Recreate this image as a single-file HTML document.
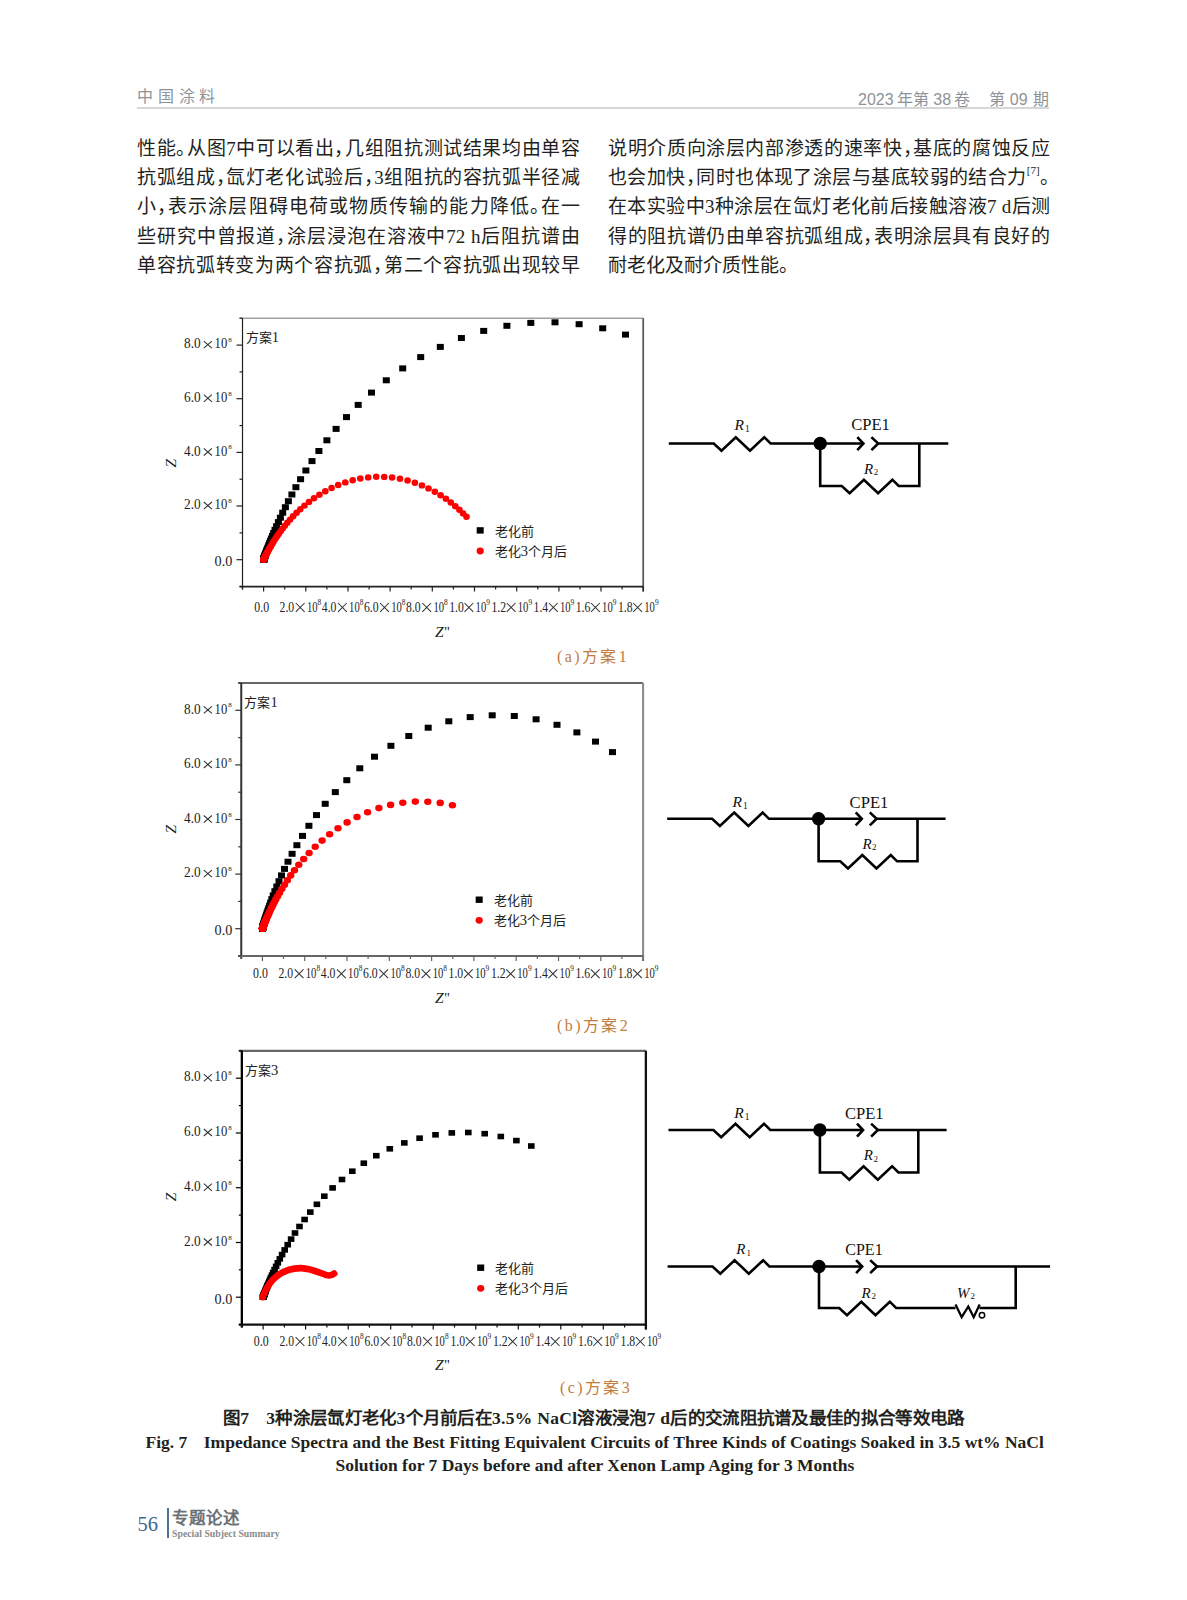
<!DOCTYPE html>
<html lang="zh-CN"><head><meta charset="utf-8"><style>
html,body{margin:0;padding:0;background:#fff;}
body{width:1187px;height:1600px;position:relative;overflow:hidden;font-family:"Liberation Serif", serif;}
.ln{position:absolute;font-size:19px;font-feature-settings:'halt';line-height:22px;height:22px;color:#231f20;text-align:justify;text-align-last:justify;white-space:nowrap;}
.ln.last{text-align-last:left;}
.ln sup{font-size:11px;vertical-align:10.5px;line-height:0;}
.hdr{position:absolute;white-space:nowrap;color:#8d9398;font-family:"Liberation Sans", sans-serif;font-size:16px;line-height:18px;}
.cap{position:absolute;color:#c27b3e;font-size:16px;line-height:18px;letter-spacing:2.4px;white-space:nowrap;}
.fc{position:absolute;color:#231f20;font-weight:bold;line-height:20px;white-space:nowrap;}
</style></head><body>
<div class="hdr" style="left:137px;top:88px;letter-spacing:4.8px">中国涂料</div>
<div class="hdr" style="left:858px;top:90.5px">2023<span style="margin-left:3.9px"></span>年第<span style="margin-left:3.8px"></span>38<span style="margin-left:2.8px"></span>卷<span style="margin-left:18.9px"></span>第<span style="margin-left:5px"></span>09<span style="margin-left:5.7px"></span>期</div>
<div style="position:absolute;left:137px;top:107px;width:912px;height:1.5px;background:#d4d6d8"></div>
<div class="ln" style="left:137px;top:138.0px;width:443px">性能。从图7中可以看出，几组阻抗测试结果均由单容</div><div class="ln" style="left:137px;top:167.2px;width:443px">抗弧组成，氙灯老化试验后，3组阻抗的容抗弧半径减</div><div class="ln" style="left:137px;top:196.4px;width:443px">小，表示涂层阻碍电荷或物质传输的能力降低。在一</div><div class="ln" style="left:137px;top:225.6px;width:443px">些研究中曾报道，涂层浸泡在溶液中72 h后阻抗谱由</div><div class="ln" style="left:137px;top:254.8px;width:443px">单容抗弧转变为两个容抗弧，第二个容抗弧出现较早</div><div class="ln" style="left:608px;top:138.0px;width:442px">说明介质向涂层内部渗透的速率快，基底的腐蚀反应</div><div class="ln" style="left:608px;top:167.2px;width:442px">也会加快，同时也体现了涂层与基底较弱的结合力<sup>[7]</sup>。</div><div class="ln" style="left:608px;top:196.4px;width:442px">在本实验中3种涂层在氙灯老化前后接触溶液7 d后测</div><div class="ln" style="left:608px;top:225.6px;width:442px">得的阻抗谱仍由单容抗弧组成，表明涂层具有良好的</div><div class="ln last" style="left:608px;top:254.8px;width:442px">耐老化及耐介质性能。</div>
<svg width="1187" height="1600" viewBox="0 0 1187 1600" style="position:absolute;left:0;top:0" font-family='"Liberation Serif", serif'><g fill="#000"><rect x="622.0" y="331.6" width="7" height="6"/><rect x="599.2" y="325.3" width="7" height="6"/><rect x="575.6" y="321.2" width="7" height="6"/><rect x="551.5" y="319.3" width="7" height="6"/><rect x="527.3" y="319.9" width="7" height="6"/><rect x="503.4" y="322.8" width="7" height="6"/><rect x="480.2" y="327.9" width="7" height="6"/><rect x="457.9" y="335.0" width="7" height="6"/><rect x="436.8" y="343.9" width="7" height="6"/><rect x="417.2" y="354.1" width="7" height="6"/><rect x="399.2" y="365.4" width="7" height="6"/><rect x="382.8" y="377.3" width="7" height="6"/><rect x="368.0" y="389.6" width="7" height="6"/><rect x="354.7" y="401.9" width="7" height="6"/><rect x="343.0" y="414.1" width="7" height="6"/><rect x="332.6" y="425.9" width="7" height="6"/><rect x="323.4" y="437.3" width="7" height="6"/><rect x="315.4" y="448.0" width="7" height="6"/><rect x="308.5" y="458.1" width="7" height="6"/><rect x="302.4" y="467.5" width="7" height="6"/><rect x="297.1" y="476.2" width="7" height="6"/><rect x="292.4" y="484.2" width="7" height="6"/><rect x="288.4" y="491.5" width="7" height="6"/><rect x="284.9" y="498.2" width="7" height="6"/><rect x="281.9" y="504.2" width="7" height="6"/><rect x="279.2" y="509.7" width="7" height="6"/><rect x="276.9" y="514.7" width="7" height="6"/><rect x="274.9" y="519.1" width="7" height="6"/><rect x="273.1" y="523.2" width="7" height="6"/><rect x="271.5" y="526.8" width="7" height="6"/><rect x="270.2" y="530.0" width="7" height="6"/><rect x="269.0" y="532.9" width="7" height="6"/><rect x="267.9" y="535.5" width="7" height="6"/><rect x="267.0" y="537.8" width="7" height="6"/><rect x="266.2" y="539.9" width="7" height="6"/><rect x="265.5" y="541.7" width="7" height="6"/><rect x="264.9" y="543.4" width="7" height="6"/><rect x="264.3" y="544.9" width="7" height="6"/><rect x="263.8" y="546.2" width="7" height="6"/><rect x="263.4" y="547.3" width="7" height="6"/><rect x="263.0" y="548.4" width="7" height="6"/><rect x="262.7" y="549.3" width="7" height="6"/><rect x="262.4" y="550.1" width="7" height="6"/><rect x="262.1" y="550.9" width="7" height="6"/><rect x="261.9" y="551.5" width="7" height="6"/><rect x="261.7" y="552.1" width="7" height="6"/><rect x="261.5" y="552.6" width="7" height="6"/><rect x="261.4" y="553.1" width="7" height="6"/><rect x="261.2" y="553.5" width="7" height="6"/><rect x="261.1" y="553.8" width="7" height="6"/><rect x="261.0" y="554.2" width="7" height="6"/><rect x="260.9" y="554.4" width="7" height="6"/><rect x="260.8" y="554.7" width="7" height="6"/><rect x="260.7" y="554.9" width="7" height="6"/><rect x="260.6" y="555.1" width="7" height="6"/><rect x="260.6" y="555.3" width="7" height="6"/><rect x="260.5" y="555.4" width="7" height="6"/><rect x="260.5" y="555.6" width="7" height="6"/><rect x="260.4" y="555.7" width="7" height="6"/><rect x="260.4" y="555.8" width="7" height="6"/><rect x="260.4" y="555.9" width="7" height="6"/><rect x="260.3" y="556.0" width="7" height="6"/><rect x="260.3" y="556.1" width="7" height="6"/><rect x="260.3" y="556.2" width="7" height="6"/><rect x="260.3" y="556.2" width="7" height="6"/><rect x="260.2" y="556.3" width="7" height="6"/><rect x="260.2" y="556.3" width="7" height="6"/><rect x="260.2" y="556.4" width="7" height="6"/><rect x="260.2" y="556.4" width="7" height="6"/><rect x="260.2" y="556.4" width="7" height="6"/><rect x="260.2" y="556.5" width="7" height="6"/><ellipse cx="466.5" cy="516.8" rx="3.3" ry="3.2" fill="#f00"/><ellipse cx="463.1" cy="513.4" rx="3.3" ry="3.2" fill="#f00"/><ellipse cx="459.4" cy="509.8" rx="3.3" ry="3.2" fill="#f00"/><ellipse cx="455.3" cy="506.2" rx="3.3" ry="3.2" fill="#f00"/><ellipse cx="450.8" cy="502.5" rx="3.3" ry="3.2" fill="#f00"/><ellipse cx="445.9" cy="498.8" rx="3.3" ry="3.2" fill="#f00"/><ellipse cx="440.6" cy="495.2" rx="3.3" ry="3.2" fill="#f00"/><ellipse cx="434.8" cy="491.7" rx="3.3" ry="3.2" fill="#f00"/><ellipse cx="428.5" cy="488.4" rx="3.3" ry="3.2" fill="#f00"/><ellipse cx="421.9" cy="485.4" rx="3.3" ry="3.2" fill="#f00"/><ellipse cx="414.9" cy="482.7" rx="3.3" ry="3.2" fill="#f00"/><ellipse cx="407.6" cy="480.5" rx="3.3" ry="3.2" fill="#f00"/><ellipse cx="400.0" cy="478.7" rx="3.3" ry="3.2" fill="#f00"/><ellipse cx="392.1" cy="477.5" rx="3.3" ry="3.2" fill="#f00"/><ellipse cx="384.2" cy="476.9" rx="3.3" ry="3.2" fill="#f00"/><ellipse cx="376.2" cy="476.8" rx="3.3" ry="3.2" fill="#f00"/><ellipse cx="368.2" cy="477.4" rx="3.3" ry="3.2" fill="#f00"/><ellipse cx="360.3" cy="478.5" rx="3.3" ry="3.2" fill="#f00"/><ellipse cx="352.7" cy="480.2" rx="3.3" ry="3.2" fill="#f00"/><ellipse cx="345.3" cy="482.4" rx="3.3" ry="3.2" fill="#f00"/><ellipse cx="338.2" cy="485.0" rx="3.3" ry="3.2" fill="#f00"/><ellipse cx="331.6" cy="488.0" rx="3.3" ry="3.2" fill="#f00"/><ellipse cx="325.3" cy="491.2" rx="3.3" ry="3.2" fill="#f00"/><ellipse cx="319.4" cy="494.7" rx="3.3" ry="3.2" fill="#f00"/><ellipse cx="314.0" cy="498.3" rx="3.3" ry="3.2" fill="#f00"/><ellipse cx="309.0" cy="501.9" rx="3.3" ry="3.2" fill="#f00"/><ellipse cx="304.5" cy="505.6" rx="3.3" ry="3.2" fill="#f00"/><ellipse cx="300.3" cy="509.3" rx="3.3" ry="3.2" fill="#f00"/><ellipse cx="296.6" cy="512.8" rx="3.3" ry="3.2" fill="#f00"/><ellipse cx="293.1" cy="516.3" rx="3.3" ry="3.2" fill="#f00"/><ellipse cx="290.1" cy="519.6" rx="3.3" ry="3.2" fill="#f00"/><ellipse cx="287.3" cy="522.8" rx="3.3" ry="3.2" fill="#f00"/><ellipse cx="284.8" cy="525.8" rx="3.3" ry="3.2" fill="#f00"/><ellipse cx="282.6" cy="528.6" rx="3.3" ry="3.2" fill="#f00"/><ellipse cx="280.6" cy="531.3" rx="3.3" ry="3.2" fill="#f00"/><ellipse cx="278.8" cy="533.7" rx="3.3" ry="3.2" fill="#f00"/><ellipse cx="277.2" cy="536.0" rx="3.3" ry="3.2" fill="#f00"/><ellipse cx="275.8" cy="538.1" rx="3.3" ry="3.2" fill="#f00"/><ellipse cx="274.5" cy="540.1" rx="3.3" ry="3.2" fill="#f00"/><ellipse cx="273.4" cy="541.8" rx="3.3" ry="3.2" fill="#f00"/><ellipse cx="272.4" cy="543.5" rx="3.3" ry="3.2" fill="#f00"/><ellipse cx="271.5" cy="545.0" rx="3.3" ry="3.2" fill="#f00"/><ellipse cx="270.7" cy="546.4" rx="3.3" ry="3.2" fill="#f00"/><ellipse cx="269.9" cy="547.6" rx="3.3" ry="3.2" fill="#f00"/><ellipse cx="269.3" cy="548.8" rx="3.3" ry="3.2" fill="#f00"/><ellipse cx="268.7" cy="549.8" rx="3.3" ry="3.2" fill="#f00"/><ellipse cx="268.2" cy="550.8" rx="3.3" ry="3.2" fill="#f00"/><ellipse cx="267.7" cy="551.6" rx="3.3" ry="3.2" fill="#f00"/><ellipse cx="267.3" cy="552.4" rx="3.3" ry="3.2" fill="#f00"/><ellipse cx="266.9" cy="553.1" rx="3.3" ry="3.2" fill="#f00"/><ellipse cx="266.6" cy="553.7" rx="3.3" ry="3.2" fill="#f00"/><ellipse cx="266.3" cy="554.3" rx="3.3" ry="3.2" fill="#f00"/><ellipse cx="266.0" cy="554.8" rx="3.3" ry="3.2" fill="#f00"/><ellipse cx="265.8" cy="555.3" rx="3.3" ry="3.2" fill="#f00"/><ellipse cx="265.5" cy="555.8" rx="3.3" ry="3.2" fill="#f00"/><ellipse cx="265.4" cy="556.1" rx="3.3" ry="3.2" fill="#f00"/><ellipse cx="265.2" cy="556.5" rx="3.3" ry="3.2" fill="#f00"/><ellipse cx="265.0" cy="556.8" rx="3.3" ry="3.2" fill="#f00"/><ellipse cx="264.9" cy="557.1" rx="3.3" ry="3.2" fill="#f00"/><ellipse cx="264.7" cy="557.3" rx="3.3" ry="3.2" fill="#f00"/><ellipse cx="264.6" cy="557.6" rx="3.3" ry="3.2" fill="#f00"/><ellipse cx="264.5" cy="557.8" rx="3.3" ry="3.2" fill="#f00"/><ellipse cx="264.4" cy="558.0" rx="3.3" ry="3.2" fill="#f00"/><ellipse cx="264.4" cy="558.2" rx="3.3" ry="3.2" fill="#f00"/><ellipse cx="264.3" cy="558.3" rx="3.3" ry="3.2" fill="#f00"/><ellipse cx="264.2" cy="558.4" rx="3.3" ry="3.2" fill="#f00"/><ellipse cx="264.1" cy="558.6" rx="3.3" ry="3.2" fill="#f00"/><ellipse cx="264.1" cy="558.7" rx="3.3" ry="3.2" fill="#f00"/><ellipse cx="264.0" cy="558.8" rx="3.3" ry="3.2" fill="#f00"/><ellipse cx="264.0" cy="558.9" rx="3.3" ry="3.2" fill="#f00"/><ellipse cx="264.0" cy="559.0" rx="3.3" ry="3.2" fill="#f00"/><ellipse cx="263.9" cy="559.0" rx="3.3" ry="3.2" fill="#f00"/><ellipse cx="263.9" cy="559.1" rx="3.3" ry="3.2" fill="#f00"/><ellipse cx="263.9" cy="559.2" rx="3.3" ry="3.2" fill="#f00"/><ellipse cx="263.8" cy="559.2" rx="3.3" ry="3.2" fill="#f00"/><ellipse cx="263.8" cy="559.3" rx="3.3" ry="3.2" fill="#f00"/><ellipse cx="263.8" cy="559.3" rx="3.3" ry="3.2" fill="#f00"/><ellipse cx="263.8" cy="559.3" rx="3.3" ry="3.2" fill="#f00"/><ellipse cx="263.8" cy="559.4" rx="3.3" ry="3.2" fill="#f00"/><ellipse cx="263.7" cy="559.4" rx="3.3" ry="3.2" fill="#f00"/><ellipse cx="263.7" cy="559.4" rx="3.3" ry="3.2" fill="#f00"/><ellipse cx="263.7" cy="559.5" rx="3.3" ry="3.2" fill="#f00"/><ellipse cx="263.7" cy="559.5" rx="3.3" ry="3.2" fill="#f00"/><ellipse cx="263.7" cy="559.5" rx="3.3" ry="3.2" fill="#f00"/><ellipse cx="263.7" cy="559.5" rx="3.3" ry="3.2" fill="#f00"/><ellipse cx="263.7" cy="559.5" rx="3.3" ry="3.2" fill="#f00"/><ellipse cx="263.7" cy="559.6" rx="3.3" ry="3.2" fill="#f00"/><ellipse cx="263.7" cy="559.6" rx="3.3" ry="3.2" fill="#f00"/><ellipse cx="263.7" cy="559.6" rx="3.3" ry="3.2" fill="#f00"/><ellipse cx="263.6" cy="559.6" rx="3.3" ry="3.2" fill="#f00"/><ellipse cx="263.6" cy="559.6" rx="3.3" ry="3.2" fill="#f00"/></g><line x1="239.51000000000002" y1="318.2300000000001" x2="643.22" y2="318.2300000000001" stroke="#a0a0a0" stroke-width="1.7"/><line x1="643.22" y1="318.2300000000001" x2="643.22" y2="591.5300000000001" stroke="#555" stroke-width="1.7"/><line x1="242.51000000000002" y1="318.2300000000001" x2="242.51000000000002" y2="589.5300000000001" stroke="#222" stroke-width="1.2"/><line x1="239.51000000000002" y1="586.5300000000001" x2="643.22" y2="586.5300000000001" stroke="#222" stroke-width="1.7"/><line x1="239.51000000000002" y1="586.5" x2="242.51000000000002" y2="586.5" stroke="#222" stroke-width="1.2"/><line x1="236.51000000000002" y1="559.7" x2="242.51000000000002" y2="559.7" stroke="#222" stroke-width="1.2"/><line x1="239.51000000000002" y1="532.9" x2="242.51000000000002" y2="532.9" stroke="#222" stroke-width="1.2"/><line x1="236.51000000000002" y1="506.0" x2="242.51000000000002" y2="506.0" stroke="#222" stroke-width="1.2"/><line x1="239.51000000000002" y1="479.2" x2="242.51000000000002" y2="479.2" stroke="#222" stroke-width="1.2"/><line x1="236.51000000000002" y1="452.4" x2="242.51000000000002" y2="452.4" stroke="#222" stroke-width="1.2"/><line x1="239.51000000000002" y1="425.6" x2="242.51000000000002" y2="425.6" stroke="#222" stroke-width="1.2"/><line x1="236.51000000000002" y1="398.7" x2="242.51000000000002" y2="398.7" stroke="#222" stroke-width="1.2"/><line x1="239.51000000000002" y1="371.9" x2="242.51000000000002" y2="371.9" stroke="#222" stroke-width="1.2"/><line x1="236.51000000000002" y1="345.1" x2="242.51000000000002" y2="345.1" stroke="#222" stroke-width="1.2"/><line x1="239.51000000000002" y1="318.2" x2="242.51000000000002" y2="318.2" stroke="#222" stroke-width="1.2"/><line x1="242.5" y1="586.5300000000001" x2="242.5" y2="589.5300000000001" stroke="#222" stroke-width="1.2"/><line x1="263.6" y1="586.5300000000001" x2="263.6" y2="591.5300000000001" stroke="#222" stroke-width="1.2"/><line x1="284.7" y1="586.5300000000001" x2="284.7" y2="589.5300000000001" stroke="#222" stroke-width="1.2"/><line x1="305.8" y1="586.5300000000001" x2="305.8" y2="591.5300000000001" stroke="#222" stroke-width="1.2"/><line x1="326.9" y1="586.5300000000001" x2="326.9" y2="589.5300000000001" stroke="#222" stroke-width="1.2"/><line x1="348.0" y1="586.5300000000001" x2="348.0" y2="591.5300000000001" stroke="#222" stroke-width="1.2"/><line x1="369.1" y1="586.5300000000001" x2="369.1" y2="589.5300000000001" stroke="#222" stroke-width="1.2"/><line x1="390.1" y1="586.5300000000001" x2="390.1" y2="591.5300000000001" stroke="#222" stroke-width="1.2"/><line x1="411.2" y1="586.5300000000001" x2="411.2" y2="589.5300000000001" stroke="#222" stroke-width="1.2"/><line x1="432.3" y1="586.5300000000001" x2="432.3" y2="591.5300000000001" stroke="#222" stroke-width="1.2"/><line x1="453.4" y1="586.5300000000001" x2="453.4" y2="589.5300000000001" stroke="#222" stroke-width="1.2"/><line x1="474.5" y1="586.5300000000001" x2="474.5" y2="591.5300000000001" stroke="#222" stroke-width="1.2"/><line x1="495.6" y1="586.5300000000001" x2="495.6" y2="589.5300000000001" stroke="#222" stroke-width="1.2"/><line x1="516.7" y1="586.5300000000001" x2="516.7" y2="591.5300000000001" stroke="#222" stroke-width="1.2"/><line x1="537.8" y1="586.5300000000001" x2="537.8" y2="589.5300000000001" stroke="#222" stroke-width="1.2"/><line x1="558.9" y1="586.5300000000001" x2="558.9" y2="591.5300000000001" stroke="#222" stroke-width="1.2"/><line x1="580.0" y1="586.5300000000001" x2="580.0" y2="589.5300000000001" stroke="#222" stroke-width="1.2"/><line x1="601.0" y1="586.5300000000001" x2="601.0" y2="591.5300000000001" stroke="#222" stroke-width="1.2"/><line x1="622.1" y1="586.5300000000001" x2="622.1" y2="589.5300000000001" stroke="#222" stroke-width="1.2"/><line x1="643.2" y1="586.5300000000001" x2="643.2" y2="591.5300000000001" stroke="#222" stroke-width="1.2"/><g fill="#222"><text x="214.6" y="566.1" font-size="14" textLength="17.8" lengthAdjust="spacingAndGlyphs">0.0</text><text x="184.1" y="509.2" font-size="13.6" textLength="16.6" lengthAdjust="spacingAndGlyphs">2.0</text><text x="214.6" y="509.2" font-size="13.6" textLength="12.6" lengthAdjust="spacingAndGlyphs">10</text><text x="228.3" y="503.0" font-size="7">8</text><text x="184.1" y="455.6" font-size="13.6" textLength="16.6" lengthAdjust="spacingAndGlyphs">4.0</text><text x="214.6" y="455.6" font-size="13.6" textLength="12.6" lengthAdjust="spacingAndGlyphs">10</text><text x="228.3" y="449.4" font-size="7">8</text><text x="184.1" y="401.9" font-size="13.6" textLength="16.6" lengthAdjust="spacingAndGlyphs">6.0</text><text x="214.6" y="401.9" font-size="13.6" textLength="12.6" lengthAdjust="spacingAndGlyphs">10</text><text x="228.3" y="395.7" font-size="7">8</text><text x="184.1" y="348.3" font-size="13.6" textLength="16.6" lengthAdjust="spacingAndGlyphs">8.0</text><text x="214.6" y="348.3" font-size="13.6" textLength="12.6" lengthAdjust="spacingAndGlyphs">10</text><text x="228.3" y="342.1" font-size="7">8</text><text x="254.3" y="611.8" font-size="14" textLength="14.8" lengthAdjust="spacingAndGlyphs">0.0</text><text x="279.6" y="611.8" font-size="13.8" textLength="14.6" lengthAdjust="spacingAndGlyphs">2.0</text><text x="306.9" y="611.8" font-size="13.8" textLength="10.6" lengthAdjust="spacingAndGlyphs">10</text><text x="317.5" y="604.8" font-size="7.4">8</text><text x="321.8" y="611.8" font-size="13.8" textLength="14.6" lengthAdjust="spacingAndGlyphs">4.0</text><text x="349.1" y="611.8" font-size="13.8" textLength="10.6" lengthAdjust="spacingAndGlyphs">10</text><text x="359.7" y="604.8" font-size="7.4">8</text><text x="363.9" y="611.8" font-size="13.8" textLength="14.6" lengthAdjust="spacingAndGlyphs">6.0</text><text x="391.2" y="611.8" font-size="13.8" textLength="10.6" lengthAdjust="spacingAndGlyphs">10</text><text x="401.8" y="604.8" font-size="7.4">8</text><text x="406.1" y="611.8" font-size="13.8" textLength="14.6" lengthAdjust="spacingAndGlyphs">8.0</text><text x="433.4" y="611.8" font-size="13.8" textLength="10.6" lengthAdjust="spacingAndGlyphs">10</text><text x="444.0" y="604.8" font-size="7.4">8</text><text x="449.2" y="611.8" font-size="13.8" textLength="14.6" lengthAdjust="spacingAndGlyphs">1.0</text><text x="475.6" y="611.8" font-size="13.8" textLength="10.6" lengthAdjust="spacingAndGlyphs">10</text><text x="486.2" y="604.8" font-size="7.4">9</text><text x="491.4" y="611.8" font-size="13.8" textLength="14.6" lengthAdjust="spacingAndGlyphs">1.2</text><text x="517.8" y="611.8" font-size="13.8" textLength="10.6" lengthAdjust="spacingAndGlyphs">10</text><text x="528.4" y="604.8" font-size="7.4">9</text><text x="533.6" y="611.8" font-size="13.8" textLength="14.6" lengthAdjust="spacingAndGlyphs">1.4</text><text x="560.0" y="611.8" font-size="13.8" textLength="10.6" lengthAdjust="spacingAndGlyphs">10</text><text x="570.6" y="604.8" font-size="7.4">9</text><text x="575.7" y="611.8" font-size="13.8" textLength="14.6" lengthAdjust="spacingAndGlyphs">1.6</text><text x="602.1" y="611.8" font-size="13.8" textLength="10.6" lengthAdjust="spacingAndGlyphs">10</text><text x="612.7" y="604.8" font-size="7.4">9</text><text x="617.9" y="611.8" font-size="13.8" textLength="14.6" lengthAdjust="spacingAndGlyphs">1.8</text><text x="644.3" y="611.8" font-size="13.8" textLength="10.6" lengthAdjust="spacingAndGlyphs">10</text><text x="654.9" y="604.8" font-size="7.4">9</text><path d="M203.8,502.0L211.9,509.1M211.9,502.0L203.8,509.1M203.8,448.4L211.9,455.5M211.9,448.4L203.8,455.5M203.8,394.7L211.9,401.8M211.9,394.7L203.8,401.8M203.8,341.1L211.9,348.2M211.9,341.1L203.8,348.2M295.8,603.0L304.6,611.8M304.6,603.0L295.8,611.8M338.0,603.0L346.8,611.8M346.8,603.0L338.0,611.8M380.1,603.0L388.9,611.8M388.9,603.0L380.1,611.8M422.3,603.0L431.1,611.8M431.1,603.0L422.3,611.8M464.5,603.0L473.3,611.8M473.3,603.0L464.5,611.8M506.7,603.0L515.5,611.8M515.5,603.0L506.7,611.8M548.9,603.0L557.7,611.8M557.7,603.0L548.9,611.8M591.0,603.0L599.8,611.8M599.8,603.0L591.0,611.8M633.2,603.0L642.0,611.8M642.0,603.0L633.2,611.8" stroke="#333" stroke-width="1.05" fill="none"/><text x="435" y="637.1" font-size="15.5" font-style="italic">Z<tspan font-style="normal" font-size="14.5" dx="0.3">"</tspan></text><text transform="translate(176.3,463.1) rotate(-90)" text-anchor="middle" font-size="15.5" font-style="italic">Z</text><text x="245.7" y="342.0" font-size="13">方案<tspan font-size="14.5">1</tspan></text><rect x="476.7" y="527.2" width="7" height="6.4" fill="#000"/><ellipse cx="480.2" cy="551.0" rx="3.6" ry="3.4" fill="#f00"/><text x="494.8" y="535.9" font-size="13">老化前</text><text x="494.8" y="555.9" font-size="13">老化<tspan font-size="14.5">3</tspan>个月后</text></g><g fill="#000"><rect x="609.0" y="749.1" width="7" height="6"/><rect x="592.0" y="738.6" width="7" height="6"/><rect x="573.4" y="729.4" width="7" height="6"/><rect x="553.5" y="721.8" width="7" height="6"/><rect x="532.6" y="716.3" width="7" height="6"/><rect x="510.8" y="713.0" width="7" height="6"/><rect x="488.7" y="712.3" width="7" height="6"/><rect x="466.7" y="714.1" width="7" height="6"/><rect x="445.3" y="718.3" width="7" height="6"/><rect x="424.7" y="724.7" width="7" height="6"/><rect x="405.3" y="733.0" width="7" height="6"/><rect x="387.4" y="742.8" width="7" height="6"/><rect x="371.0" y="753.7" width="7" height="6"/><rect x="356.3" y="765.3" width="7" height="6"/><rect x="343.3" y="777.2" width="7" height="6"/><rect x="331.8" y="789.1" width="7" height="6"/><rect x="321.7" y="800.8" width="7" height="6"/><rect x="313.0" y="812.1" width="7" height="6"/><rect x="305.4" y="822.8" width="7" height="6"/><rect x="299.0" y="832.9" width="7" height="6"/><rect x="293.4" y="842.2" width="7" height="6"/><rect x="288.6" y="850.8" width="7" height="6"/><rect x="284.5" y="858.7" width="7" height="6"/><rect x="281.0" y="865.9" width="7" height="6"/><rect x="278.0" y="872.4" width="7" height="6"/><rect x="275.5" y="878.2" width="7" height="6"/><rect x="273.3" y="883.5" width="7" height="6"/><rect x="271.4" y="888.2" width="7" height="6"/><rect x="269.7" y="892.4" width="7" height="6"/><rect x="268.3" y="896.2" width="7" height="6"/><rect x="267.1" y="899.6" width="7" height="6"/><rect x="266.1" y="902.6" width="7" height="6"/><rect x="265.2" y="905.2" width="7" height="6"/><rect x="264.4" y="907.6" width="7" height="6"/><rect x="263.7" y="909.7" width="7" height="6"/><rect x="263.1" y="911.6" width="7" height="6"/><rect x="262.6" y="913.2" width="7" height="6"/><rect x="262.1" y="914.7" width="7" height="6"/><rect x="261.7" y="916.0" width="7" height="6"/><rect x="261.4" y="917.1" width="7" height="6"/><rect x="261.1" y="918.1" width="7" height="6"/><rect x="260.8" y="919.0" width="7" height="6"/><rect x="260.6" y="919.8" width="7" height="6"/><rect x="260.4" y="920.5" width="7" height="6"/><rect x="260.2" y="921.1" width="7" height="6"/><rect x="260.0" y="921.6" width="7" height="6"/><rect x="259.9" y="922.1" width="7" height="6"/><rect x="259.8" y="922.5" width="7" height="6"/><rect x="259.7" y="922.9" width="7" height="6"/><rect x="259.6" y="923.2" width="7" height="6"/><rect x="259.5" y="923.5" width="7" height="6"/><rect x="259.4" y="923.8" width="7" height="6"/><rect x="259.4" y="924.0" width="7" height="6"/><rect x="259.3" y="924.2" width="7" height="6"/><rect x="259.3" y="924.4" width="7" height="6"/><rect x="259.2" y="924.5" width="7" height="6"/><rect x="259.2" y="924.7" width="7" height="6"/><rect x="259.1" y="924.8" width="7" height="6"/><rect x="259.1" y="924.9" width="7" height="6"/><rect x="259.1" y="925.0" width="7" height="6"/><rect x="259.1" y="925.1" width="7" height="6"/><rect x="259.1" y="925.2" width="7" height="6"/><rect x="259.0" y="925.2" width="7" height="6"/><rect x="259.0" y="925.3" width="7" height="6"/><rect x="259.0" y="925.3" width="7" height="6"/><rect x="259.0" y="925.4" width="7" height="6"/><rect x="259.0" y="925.4" width="7" height="6"/><rect x="259.0" y="925.4" width="7" height="6"/><rect x="259.0" y="925.5" width="7" height="6"/><rect x="259.0" y="925.5" width="7" height="6"/><ellipse cx="452.4" cy="805.2" rx="3.7" ry="3.3" fill="#f00"/><ellipse cx="440.2" cy="802.9" rx="3.7" ry="3.3" fill="#f00"/><ellipse cx="427.8" cy="801.7" rx="3.7" ry="3.3" fill="#f00"/><ellipse cx="415.3" cy="801.6" rx="3.7" ry="3.3" fill="#f00"/><ellipse cx="402.8" cy="802.7" rx="3.7" ry="3.3" fill="#f00"/><ellipse cx="390.6" cy="804.9" rx="3.7" ry="3.3" fill="#f00"/><ellipse cx="378.9" cy="808.1" rx="3.7" ry="3.3" fill="#f00"/><ellipse cx="367.6" cy="812.2" rx="3.7" ry="3.3" fill="#f00"/><ellipse cx="357.0" cy="817.0" rx="3.7" ry="3.3" fill="#f00"/><ellipse cx="347.1" cy="822.4" rx="3.7" ry="3.3" fill="#f00"/><ellipse cx="338.0" cy="828.2" rx="3.7" ry="3.3" fill="#f00"/><ellipse cx="329.6" cy="834.3" rx="3.7" ry="3.3" fill="#f00"/><ellipse cx="322.1" cy="840.6" rx="3.7" ry="3.3" fill="#f00"/><ellipse cx="315.2" cy="846.8" rx="3.7" ry="3.3" fill="#f00"/><ellipse cx="309.1" cy="853.0" rx="3.7" ry="3.3" fill="#f00"/><ellipse cx="303.7" cy="859.0" rx="3.7" ry="3.3" fill="#f00"/><ellipse cx="298.8" cy="864.7" rx="3.7" ry="3.3" fill="#f00"/><ellipse cx="294.5" cy="870.2" rx="3.7" ry="3.3" fill="#f00"/><ellipse cx="290.7" cy="875.4" rx="3.7" ry="3.3" fill="#f00"/><ellipse cx="287.4" cy="880.2" rx="3.7" ry="3.3" fill="#f00"/><ellipse cx="284.5" cy="884.7" rx="3.7" ry="3.3" fill="#f00"/><ellipse cx="281.9" cy="888.8" rx="3.7" ry="3.3" fill="#f00"/><ellipse cx="279.6" cy="892.7" rx="3.7" ry="3.3" fill="#f00"/><ellipse cx="277.6" cy="896.2" rx="3.7" ry="3.3" fill="#f00"/><ellipse cx="275.8" cy="899.4" rx="3.7" ry="3.3" fill="#f00"/><ellipse cx="274.3" cy="902.3" rx="3.7" ry="3.3" fill="#f00"/><ellipse cx="272.9" cy="904.9" rx="3.7" ry="3.3" fill="#f00"/><ellipse cx="271.7" cy="907.4" rx="3.7" ry="3.3" fill="#f00"/><ellipse cx="270.6" cy="909.5" rx="3.7" ry="3.3" fill="#f00"/><ellipse cx="269.7" cy="911.5" rx="3.7" ry="3.3" fill="#f00"/><ellipse cx="268.9" cy="913.3" rx="3.7" ry="3.3" fill="#f00"/><ellipse cx="268.2" cy="914.9" rx="3.7" ry="3.3" fill="#f00"/><ellipse cx="267.5" cy="916.3" rx="3.7" ry="3.3" fill="#f00"/><ellipse cx="266.9" cy="917.6" rx="3.7" ry="3.3" fill="#f00"/><ellipse cx="266.4" cy="918.8" rx="3.7" ry="3.3" fill="#f00"/><ellipse cx="266.0" cy="919.8" rx="3.7" ry="3.3" fill="#f00"/><ellipse cx="265.6" cy="920.8" rx="3.7" ry="3.3" fill="#f00"/><ellipse cx="265.2" cy="921.6" rx="3.7" ry="3.3" fill="#f00"/><ellipse cx="264.9" cy="922.4" rx="3.7" ry="3.3" fill="#f00"/><ellipse cx="264.6" cy="923.0" rx="3.7" ry="3.3" fill="#f00"/><ellipse cx="264.4" cy="923.6" rx="3.7" ry="3.3" fill="#f00"/><ellipse cx="264.2" cy="924.2" rx="3.7" ry="3.3" fill="#f00"/><ellipse cx="264.0" cy="924.7" rx="3.7" ry="3.3" fill="#f00"/><ellipse cx="263.8" cy="925.1" rx="3.7" ry="3.3" fill="#f00"/><ellipse cx="263.7" cy="925.5" rx="3.7" ry="3.3" fill="#f00"/><ellipse cx="263.5" cy="925.8" rx="3.7" ry="3.3" fill="#f00"/><ellipse cx="263.4" cy="926.1" rx="3.7" ry="3.3" fill="#f00"/><ellipse cx="263.3" cy="926.4" rx="3.7" ry="3.3" fill="#f00"/><ellipse cx="263.2" cy="926.6" rx="3.7" ry="3.3" fill="#f00"/><ellipse cx="263.1" cy="926.9" rx="3.7" ry="3.3" fill="#f00"/><ellipse cx="263.0" cy="927.1" rx="3.7" ry="3.3" fill="#f00"/><ellipse cx="263.0" cy="927.2" rx="3.7" ry="3.3" fill="#f00"/><ellipse cx="262.9" cy="927.4" rx="3.7" ry="3.3" fill="#f00"/><ellipse cx="262.8" cy="927.5" rx="3.7" ry="3.3" fill="#f00"/><ellipse cx="262.8" cy="927.7" rx="3.7" ry="3.3" fill="#f00"/><ellipse cx="262.8" cy="927.8" rx="3.7" ry="3.3" fill="#f00"/><ellipse cx="262.7" cy="927.9" rx="3.7" ry="3.3" fill="#f00"/><ellipse cx="262.7" cy="928.0" rx="3.7" ry="3.3" fill="#f00"/><ellipse cx="262.7" cy="928.0" rx="3.7" ry="3.3" fill="#f00"/><ellipse cx="262.6" cy="928.1" rx="3.7" ry="3.3" fill="#f00"/><ellipse cx="262.6" cy="928.2" rx="3.7" ry="3.3" fill="#f00"/><ellipse cx="262.6" cy="928.2" rx="3.7" ry="3.3" fill="#f00"/><ellipse cx="262.6" cy="928.3" rx="3.7" ry="3.3" fill="#f00"/><ellipse cx="262.5" cy="928.3" rx="3.7" ry="3.3" fill="#f00"/><ellipse cx="262.5" cy="928.4" rx="3.7" ry="3.3" fill="#f00"/><ellipse cx="262.5" cy="928.4" rx="3.7" ry="3.3" fill="#f00"/><ellipse cx="262.5" cy="928.4" rx="3.7" ry="3.3" fill="#f00"/><ellipse cx="262.5" cy="928.5" rx="3.7" ry="3.3" fill="#f00"/><ellipse cx="262.5" cy="928.5" rx="3.7" ry="3.3" fill="#f00"/><ellipse cx="262.5" cy="928.5" rx="3.7" ry="3.3" fill="#f00"/><ellipse cx="262.5" cy="928.5" rx="3.7" ry="3.3" fill="#f00"/><ellipse cx="262.5" cy="928.6" rx="3.7" ry="3.3" fill="#f00"/><ellipse cx="262.5" cy="928.6" rx="3.7" ry="3.3" fill="#f00"/></g><line x1="238.24999999999997" y1="683.0" x2="643.0999999999999" y2="683.0" stroke="#666" stroke-width="2"/><line x1="643.0999999999999" y1="683.0" x2="643.0999999999999" y2="961.0" stroke="#888" stroke-width="2"/><line x1="241.24999999999997" y1="683.0" x2="241.24999999999997" y2="959.0" stroke="#333" stroke-width="2"/><line x1="238.24999999999997" y1="956.0" x2="643.0999999999999" y2="956.0" stroke="#666" stroke-width="2"/><line x1="238.24999999999997" y1="956.0" x2="241.24999999999997" y2="956.0" stroke="#333" stroke-width="1.2"/><line x1="235.24999999999997" y1="928.7" x2="241.24999999999997" y2="928.7" stroke="#333" stroke-width="1.2"/><line x1="238.24999999999997" y1="901.4" x2="241.24999999999997" y2="901.4" stroke="#333" stroke-width="1.2"/><line x1="235.24999999999997" y1="874.1" x2="241.24999999999997" y2="874.1" stroke="#333" stroke-width="1.2"/><line x1="238.24999999999997" y1="846.8" x2="241.24999999999997" y2="846.8" stroke="#333" stroke-width="1.2"/><line x1="235.24999999999997" y1="819.5" x2="241.24999999999997" y2="819.5" stroke="#333" stroke-width="1.2"/><line x1="238.24999999999997" y1="792.2" x2="241.24999999999997" y2="792.2" stroke="#333" stroke-width="1.2"/><line x1="235.24999999999997" y1="764.9" x2="241.24999999999997" y2="764.9" stroke="#333" stroke-width="1.2"/><line x1="238.24999999999997" y1="737.6" x2="241.24999999999997" y2="737.6" stroke="#333" stroke-width="1.2"/><line x1="235.24999999999997" y1="710.3" x2="241.24999999999997" y2="710.3" stroke="#333" stroke-width="1.2"/><line x1="238.24999999999997" y1="683.0" x2="241.24999999999997" y2="683.0" stroke="#333" stroke-width="1.2"/><line x1="241.2" y1="956.0" x2="241.2" y2="959.0" stroke="#666" stroke-width="1.2"/><line x1="262.4" y1="956.0" x2="262.4" y2="961.0" stroke="#666" stroke-width="1.2"/><line x1="283.5" y1="956.0" x2="283.5" y2="959.0" stroke="#666" stroke-width="1.2"/><line x1="304.7" y1="956.0" x2="304.7" y2="961.0" stroke="#666" stroke-width="1.2"/><line x1="325.8" y1="956.0" x2="325.8" y2="959.0" stroke="#666" stroke-width="1.2"/><line x1="347.0" y1="956.0" x2="347.0" y2="961.0" stroke="#666" stroke-width="1.2"/><line x1="368.1" y1="956.0" x2="368.1" y2="959.0" stroke="#666" stroke-width="1.2"/><line x1="389.3" y1="956.0" x2="389.3" y2="961.0" stroke="#666" stroke-width="1.2"/><line x1="410.4" y1="956.0" x2="410.4" y2="959.0" stroke="#666" stroke-width="1.2"/><line x1="431.6" y1="956.0" x2="431.6" y2="961.0" stroke="#666" stroke-width="1.2"/><line x1="452.8" y1="956.0" x2="452.8" y2="959.0" stroke="#666" stroke-width="1.2"/><line x1="473.9" y1="956.0" x2="473.9" y2="961.0" stroke="#666" stroke-width="1.2"/><line x1="495.0" y1="956.0" x2="495.0" y2="959.0" stroke="#666" stroke-width="1.2"/><line x1="516.2" y1="956.0" x2="516.2" y2="961.0" stroke="#666" stroke-width="1.2"/><line x1="537.3" y1="956.0" x2="537.3" y2="959.0" stroke="#666" stroke-width="1.2"/><line x1="558.5" y1="956.0" x2="558.5" y2="961.0" stroke="#666" stroke-width="1.2"/><line x1="579.6" y1="956.0" x2="579.6" y2="959.0" stroke="#666" stroke-width="1.2"/><line x1="600.8" y1="956.0" x2="600.8" y2="961.0" stroke="#666" stroke-width="1.2"/><line x1="621.9" y1="956.0" x2="621.9" y2="959.0" stroke="#666" stroke-width="1.2"/><line x1="643.1" y1="956.0" x2="643.1" y2="961.0" stroke="#666" stroke-width="1.2"/><g fill="#222"><text x="214.6" y="935.1" font-size="14" textLength="17.8" lengthAdjust="spacingAndGlyphs">0.0</text><text x="184.1" y="877.3" font-size="13.6" textLength="16.6" lengthAdjust="spacingAndGlyphs">2.0</text><text x="214.6" y="877.3" font-size="13.6" textLength="12.6" lengthAdjust="spacingAndGlyphs">10</text><text x="228.3" y="871.1" font-size="7">8</text><text x="184.1" y="822.7" font-size="13.6" textLength="16.6" lengthAdjust="spacingAndGlyphs">4.0</text><text x="214.6" y="822.7" font-size="13.6" textLength="12.6" lengthAdjust="spacingAndGlyphs">10</text><text x="228.3" y="816.5" font-size="7">8</text><text x="184.1" y="768.1" font-size="13.6" textLength="16.6" lengthAdjust="spacingAndGlyphs">6.0</text><text x="214.6" y="768.1" font-size="13.6" textLength="12.6" lengthAdjust="spacingAndGlyphs">10</text><text x="228.3" y="761.9" font-size="7">8</text><text x="184.1" y="713.5" font-size="13.6" textLength="16.6" lengthAdjust="spacingAndGlyphs">8.0</text><text x="214.6" y="713.5" font-size="13.6" textLength="12.6" lengthAdjust="spacingAndGlyphs">10</text><text x="228.3" y="707.3" font-size="7">8</text><text x="253.1" y="978.2" font-size="14" textLength="14.8" lengthAdjust="spacingAndGlyphs">0.0</text><text x="278.5" y="978.2" font-size="13.8" textLength="14.6" lengthAdjust="spacingAndGlyphs">2.0</text><text x="305.8" y="978.2" font-size="13.8" textLength="10.6" lengthAdjust="spacingAndGlyphs">10</text><text x="316.4" y="971.2" font-size="7.4">8</text><text x="320.8" y="978.2" font-size="13.8" textLength="14.6" lengthAdjust="spacingAndGlyphs">4.0</text><text x="348.1" y="978.2" font-size="13.8" textLength="10.6" lengthAdjust="spacingAndGlyphs">10</text><text x="358.7" y="971.2" font-size="7.4">8</text><text x="363.1" y="978.2" font-size="13.8" textLength="14.6" lengthAdjust="spacingAndGlyphs">6.0</text><text x="390.4" y="978.2" font-size="13.8" textLength="10.6" lengthAdjust="spacingAndGlyphs">10</text><text x="401.0" y="971.2" font-size="7.4">8</text><text x="405.4" y="978.2" font-size="13.8" textLength="14.6" lengthAdjust="spacingAndGlyphs">8.0</text><text x="432.7" y="978.2" font-size="13.8" textLength="10.6" lengthAdjust="spacingAndGlyphs">10</text><text x="443.3" y="971.2" font-size="7.4">8</text><text x="448.6" y="978.2" font-size="13.8" textLength="14.6" lengthAdjust="spacingAndGlyphs">1.0</text><text x="475.0" y="978.2" font-size="13.8" textLength="10.6" lengthAdjust="spacingAndGlyphs">10</text><text x="485.6" y="971.2" font-size="7.4">9</text><text x="490.9" y="978.2" font-size="13.8" textLength="14.6" lengthAdjust="spacingAndGlyphs">1.2</text><text x="517.3" y="978.2" font-size="13.8" textLength="10.6" lengthAdjust="spacingAndGlyphs">10</text><text x="527.9" y="971.2" font-size="7.4">9</text><text x="533.2" y="978.2" font-size="13.8" textLength="14.6" lengthAdjust="spacingAndGlyphs">1.4</text><text x="559.6" y="978.2" font-size="13.8" textLength="10.6" lengthAdjust="spacingAndGlyphs">10</text><text x="570.2" y="971.2" font-size="7.4">9</text><text x="575.5" y="978.2" font-size="13.8" textLength="14.6" lengthAdjust="spacingAndGlyphs">1.6</text><text x="601.9" y="978.2" font-size="13.8" textLength="10.6" lengthAdjust="spacingAndGlyphs">10</text><text x="612.5" y="971.2" font-size="7.4">9</text><text x="617.8" y="978.2" font-size="13.8" textLength="14.6" lengthAdjust="spacingAndGlyphs">1.8</text><text x="644.2" y="978.2" font-size="13.8" textLength="10.6" lengthAdjust="spacingAndGlyphs">10</text><text x="654.8" y="971.2" font-size="7.4">9</text><path d="M203.8,870.1L211.9,877.2M211.9,870.1L203.8,877.2M203.8,815.5L211.9,822.6M211.9,815.5L203.8,822.6M203.8,760.9L211.9,768.0M211.9,760.9L203.8,768.0M203.8,706.3L211.9,713.4M211.9,706.3L203.8,713.4M294.7,969.4L303.5,978.2M303.5,969.4L294.7,978.2M337.0,969.4L345.8,978.2M345.8,969.4L337.0,978.2M379.3,969.4L388.1,978.2M388.1,969.4L379.3,978.2M421.6,969.4L430.4,978.2M430.4,969.4L421.6,978.2M463.9,969.4L472.7,978.2M472.7,969.4L463.9,978.2M506.2,969.4L515.0,978.2M515.0,969.4L506.2,978.2M548.5,969.4L557.3,978.2M557.3,969.4L548.5,978.2M590.8,969.4L599.6,978.2M599.6,969.4L590.8,978.2M633.1,969.4L641.9,978.2M641.9,969.4L633.1,978.2" stroke="#333" stroke-width="1.05" fill="none"/><text x="435" y="1003.0" font-size="15.5" font-style="italic">Z<tspan font-style="normal" font-size="14.5" dx="0.3">"</tspan></text><text transform="translate(176.3,829.2) rotate(-90)" text-anchor="middle" font-size="15.5" font-style="italic">Z</text><text x="244.4" y="706.8" font-size="13">方案<tspan font-size="14.5">1</tspan></text><rect x="475.7" y="896.5" width="7" height="6.4" fill="#000"/><ellipse cx="479.2" cy="920.3" rx="3.6" ry="3.4" fill="#f00"/><text x="493.8" y="905.2" font-size="13">老化前</text><text x="493.8" y="925.2" font-size="13">老化<tspan font-size="14.5">3</tspan>个月后</text></g><g fill="#000"><rect x="528.0" y="1143.2" width="6.6" height="5.6"/><rect x="513.1" y="1137.8" width="6.6" height="5.6"/><rect x="497.5" y="1133.7" width="6.6" height="5.6"/><rect x="481.4" y="1130.9" width="6.6" height="5.6"/><rect x="465.0" y="1129.7" width="6.6" height="5.6"/><rect x="448.5" y="1130.1" width="6.6" height="5.6"/><rect x="432.2" y="1132.0" width="6.6" height="5.6"/><rect x="416.3" y="1135.4" width="6.6" height="5.6"/><rect x="401.0" y="1140.1" width="6.6" height="5.6"/><rect x="386.5" y="1146.0" width="6.6" height="5.6"/><rect x="373.0" y="1152.9" width="6.6" height="5.6"/><rect x="360.5" y="1160.4" width="6.6" height="5.6"/><rect x="349.0" y="1168.4" width="6.6" height="5.6"/><rect x="338.7" y="1176.7" width="6.6" height="5.6"/><rect x="329.3" y="1185.1" width="6.6" height="5.6"/><rect x="321.0" y="1193.4" width="6.6" height="5.6"/><rect x="313.6" y="1201.5" width="6.6" height="5.6"/><rect x="307.0" y="1209.3" width="6.6" height="5.6"/><rect x="301.3" y="1216.7" width="6.6" height="5.6"/><rect x="296.2" y="1223.7" width="6.6" height="5.6"/><rect x="291.7" y="1230.2" width="6.6" height="5.6"/><rect x="287.8" y="1236.3" width="6.6" height="5.6"/><rect x="284.4" y="1241.9" width="6.6" height="5.6"/><rect x="281.4" y="1247.1" width="6.6" height="5.6"/><rect x="278.8" y="1251.8" width="6.6" height="5.6"/><rect x="276.5" y="1256.1" width="6.6" height="5.6"/><rect x="274.5" y="1260.0" width="6.6" height="5.6"/><rect x="272.8" y="1263.6" width="6.6" height="5.6"/><rect x="271.3" y="1266.8" width="6.6" height="5.6"/><rect x="269.9" y="1269.7" width="6.6" height="5.6"/><rect x="268.7" y="1272.3" width="6.6" height="5.6"/><rect x="267.7" y="1274.6" width="6.6" height="5.6"/><rect x="266.8" y="1276.7" width="6.6" height="5.6"/><rect x="266.0" y="1278.6" width="6.6" height="5.6"/><rect x="265.3" y="1280.3" width="6.6" height="5.6"/><rect x="264.6" y="1281.8" width="6.6" height="5.6"/><rect x="264.1" y="1283.2" width="6.6" height="5.6"/><rect x="263.6" y="1284.4" width="6.6" height="5.6"/><rect x="263.2" y="1285.5" width="6.6" height="5.6"/><rect x="262.8" y="1286.5" width="6.6" height="5.6"/><rect x="262.4" y="1287.3" width="6.6" height="5.6"/><rect x="262.2" y="1288.1" width="6.6" height="5.6"/><rect x="261.9" y="1288.8" width="6.6" height="5.6"/><rect x="261.7" y="1289.4" width="6.6" height="5.6"/><rect x="261.4" y="1289.9" width="6.6" height="5.6"/><rect x="261.3" y="1290.4" width="6.6" height="5.6"/><rect x="261.1" y="1290.9" width="6.6" height="5.6"/><rect x="261.0" y="1291.3" width="6.6" height="5.6"/><rect x="260.8" y="1291.6" width="6.6" height="5.6"/><rect x="260.7" y="1291.9" width="6.6" height="5.6"/><rect x="260.6" y="1292.2" width="6.6" height="5.6"/><rect x="260.5" y="1292.4" width="6.6" height="5.6"/><rect x="260.4" y="1292.6" width="6.6" height="5.6"/><rect x="260.4" y="1292.8" width="6.6" height="5.6"/><rect x="260.3" y="1293.0" width="6.6" height="5.6"/><rect x="260.2" y="1293.2" width="6.6" height="5.6"/><rect x="260.2" y="1293.3" width="6.6" height="5.6"/><rect x="260.2" y="1293.4" width="6.6" height="5.6"/><rect x="260.1" y="1293.5" width="6.6" height="5.6"/><rect x="260.1" y="1293.6" width="6.6" height="5.6"/><rect x="260.1" y="1293.7" width="6.6" height="5.6"/><rect x="260.0" y="1293.8" width="6.6" height="5.6"/><rect x="260.0" y="1293.9" width="6.6" height="5.6"/><rect x="260.0" y="1293.9" width="6.6" height="5.6"/><rect x="260.0" y="1294.0" width="6.6" height="5.6"/><rect x="259.9" y="1294.0" width="6.6" height="5.6"/><rect x="259.9" y="1294.1" width="6.6" height="5.6"/><rect x="259.9" y="1294.1" width="6.6" height="5.6"/><rect x="259.9" y="1294.1" width="6.6" height="5.6"/><rect x="259.9" y="1294.2" width="6.6" height="5.6"/><rect x="259.9" y="1294.2" width="6.6" height="5.6"/><rect x="259.9" y="1294.2" width="6.6" height="5.6"/><rect x="259.9" y="1294.2" width="6.6" height="5.6"/><path d="M262.6,1297.2 C265,1291 270,1281 277,1276 C285,1270 294,1268 301,1268.1 C310,1268.3 318,1272 325.8,1274.9 C329,1276 332,1275.5 334.2,1273.6" fill="none" stroke="#f00" stroke-width="6.6" stroke-linecap="round" stroke-linejoin="round"/></g><line x1="238.83500000000004" y1="1050.825" x2="645.87" y2="1050.825" stroke="#666" stroke-width="2.3"/><line x1="645.87" y1="1050.825" x2="645.87" y2="1329.575" stroke="#111" stroke-width="2.3"/><line x1="241.83500000000004" y1="1050.825" x2="241.83500000000004" y2="1327.575" stroke="#000" stroke-width="2.3"/><line x1="238.83500000000004" y1="1324.575" x2="645.87" y2="1324.575" stroke="#111" stroke-width="2.3"/><line x1="238.83500000000004" y1="1324.6" x2="241.83500000000004" y2="1324.6" stroke="#000" stroke-width="1.2"/><line x1="235.83500000000004" y1="1297.2" x2="241.83500000000004" y2="1297.2" stroke="#000" stroke-width="1.2"/><line x1="238.83500000000004" y1="1269.8" x2="241.83500000000004" y2="1269.8" stroke="#000" stroke-width="1.2"/><line x1="235.83500000000004" y1="1242.5" x2="241.83500000000004" y2="1242.5" stroke="#000" stroke-width="1.2"/><line x1="238.83500000000004" y1="1215.1" x2="241.83500000000004" y2="1215.1" stroke="#000" stroke-width="1.2"/><line x1="235.83500000000004" y1="1187.7" x2="241.83500000000004" y2="1187.7" stroke="#000" stroke-width="1.2"/><line x1="238.83500000000004" y1="1160.3" x2="241.83500000000004" y2="1160.3" stroke="#000" stroke-width="1.2"/><line x1="235.83500000000004" y1="1133.0" x2="241.83500000000004" y2="1133.0" stroke="#000" stroke-width="1.2"/><line x1="238.83500000000004" y1="1105.6" x2="241.83500000000004" y2="1105.6" stroke="#000" stroke-width="1.2"/><line x1="235.83500000000004" y1="1078.2" x2="241.83500000000004" y2="1078.2" stroke="#000" stroke-width="1.2"/><line x1="238.83500000000004" y1="1050.8" x2="241.83500000000004" y2="1050.8" stroke="#000" stroke-width="1.2"/><line x1="241.8" y1="1324.575" x2="241.8" y2="1327.575" stroke="#111" stroke-width="1.2"/><line x1="263.1" y1="1324.575" x2="263.1" y2="1329.575" stroke="#111" stroke-width="1.2"/><line x1="284.4" y1="1324.575" x2="284.4" y2="1327.575" stroke="#111" stroke-width="1.2"/><line x1="305.6" y1="1324.575" x2="305.6" y2="1329.575" stroke="#111" stroke-width="1.2"/><line x1="326.9" y1="1324.575" x2="326.9" y2="1327.575" stroke="#111" stroke-width="1.2"/><line x1="348.2" y1="1324.575" x2="348.2" y2="1329.575" stroke="#111" stroke-width="1.2"/><line x1="369.4" y1="1324.575" x2="369.4" y2="1327.575" stroke="#111" stroke-width="1.2"/><line x1="390.7" y1="1324.575" x2="390.7" y2="1329.575" stroke="#111" stroke-width="1.2"/><line x1="412.0" y1="1324.575" x2="412.0" y2="1327.575" stroke="#111" stroke-width="1.2"/><line x1="433.2" y1="1324.575" x2="433.2" y2="1329.575" stroke="#111" stroke-width="1.2"/><line x1="454.5" y1="1324.575" x2="454.5" y2="1327.575" stroke="#111" stroke-width="1.2"/><line x1="475.8" y1="1324.575" x2="475.8" y2="1329.575" stroke="#111" stroke-width="1.2"/><line x1="497.0" y1="1324.575" x2="497.0" y2="1327.575" stroke="#111" stroke-width="1.2"/><line x1="518.3" y1="1324.575" x2="518.3" y2="1329.575" stroke="#111" stroke-width="1.2"/><line x1="539.5" y1="1324.575" x2="539.5" y2="1327.575" stroke="#111" stroke-width="1.2"/><line x1="560.8" y1="1324.575" x2="560.8" y2="1329.575" stroke="#111" stroke-width="1.2"/><line x1="582.1" y1="1324.575" x2="582.1" y2="1327.575" stroke="#111" stroke-width="1.2"/><line x1="603.3" y1="1324.575" x2="603.3" y2="1329.575" stroke="#111" stroke-width="1.2"/><line x1="624.6" y1="1324.575" x2="624.6" y2="1327.575" stroke="#111" stroke-width="1.2"/><line x1="645.9" y1="1324.575" x2="645.9" y2="1329.575" stroke="#111" stroke-width="1.2"/><g fill="#222"><text x="214.6" y="1303.6" font-size="14" textLength="17.8" lengthAdjust="spacingAndGlyphs">0.0</text><text x="184.1" y="1245.7" font-size="13.6" textLength="16.6" lengthAdjust="spacingAndGlyphs">2.0</text><text x="214.6" y="1245.7" font-size="13.6" textLength="12.6" lengthAdjust="spacingAndGlyphs">10</text><text x="228.3" y="1239.5" font-size="7">8</text><text x="184.1" y="1190.9" font-size="13.6" textLength="16.6" lengthAdjust="spacingAndGlyphs">4.0</text><text x="214.6" y="1190.9" font-size="13.6" textLength="12.6" lengthAdjust="spacingAndGlyphs">10</text><text x="228.3" y="1184.7" font-size="7">8</text><text x="184.1" y="1136.2" font-size="13.6" textLength="16.6" lengthAdjust="spacingAndGlyphs">6.0</text><text x="214.6" y="1136.2" font-size="13.6" textLength="12.6" lengthAdjust="spacingAndGlyphs">10</text><text x="228.3" y="1130.0" font-size="7">8</text><text x="184.1" y="1081.4" font-size="13.6" textLength="16.6" lengthAdjust="spacingAndGlyphs">8.0</text><text x="214.6" y="1081.4" font-size="13.6" textLength="12.6" lengthAdjust="spacingAndGlyphs">10</text><text x="228.3" y="1075.2" font-size="7">8</text><text x="253.8" y="1346.0" font-size="14" textLength="14.8" lengthAdjust="spacingAndGlyphs">0.0</text><text x="279.4" y="1346.0" font-size="13.8" textLength="14.6" lengthAdjust="spacingAndGlyphs">2.0</text><text x="306.7" y="1346.0" font-size="13.8" textLength="10.6" lengthAdjust="spacingAndGlyphs">10</text><text x="317.3" y="1339.0" font-size="7.4">8</text><text x="322.0" y="1346.0" font-size="13.8" textLength="14.6" lengthAdjust="spacingAndGlyphs">4.0</text><text x="349.3" y="1346.0" font-size="13.8" textLength="10.6" lengthAdjust="spacingAndGlyphs">10</text><text x="359.9" y="1339.0" font-size="7.4">8</text><text x="364.5" y="1346.0" font-size="13.8" textLength="14.6" lengthAdjust="spacingAndGlyphs">6.0</text><text x="391.8" y="1346.0" font-size="13.8" textLength="10.6" lengthAdjust="spacingAndGlyphs">10</text><text x="402.4" y="1339.0" font-size="7.4">8</text><text x="407.0" y="1346.0" font-size="13.8" textLength="14.6" lengthAdjust="spacingAndGlyphs">8.0</text><text x="434.3" y="1346.0" font-size="13.8" textLength="10.6" lengthAdjust="spacingAndGlyphs">10</text><text x="444.9" y="1339.0" font-size="7.4">8</text><text x="450.4" y="1346.0" font-size="13.8" textLength="14.6" lengthAdjust="spacingAndGlyphs">1.0</text><text x="476.9" y="1346.0" font-size="13.8" textLength="10.6" lengthAdjust="spacingAndGlyphs">10</text><text x="487.4" y="1339.0" font-size="7.4">9</text><text x="493.0" y="1346.0" font-size="13.8" textLength="14.6" lengthAdjust="spacingAndGlyphs">1.2</text><text x="519.4" y="1346.0" font-size="13.8" textLength="10.6" lengthAdjust="spacingAndGlyphs">10</text><text x="530.0" y="1339.0" font-size="7.4">9</text><text x="535.5" y="1346.0" font-size="13.8" textLength="14.6" lengthAdjust="spacingAndGlyphs">1.4</text><text x="561.9" y="1346.0" font-size="13.8" textLength="10.6" lengthAdjust="spacingAndGlyphs">10</text><text x="572.5" y="1339.0" font-size="7.4">9</text><text x="578.0" y="1346.0" font-size="13.8" textLength="14.6" lengthAdjust="spacingAndGlyphs">1.6</text><text x="604.4" y="1346.0" font-size="13.8" textLength="10.6" lengthAdjust="spacingAndGlyphs">10</text><text x="615.0" y="1339.0" font-size="7.4">9</text><text x="620.6" y="1346.0" font-size="13.8" textLength="14.6" lengthAdjust="spacingAndGlyphs">1.8</text><text x="647.0" y="1346.0" font-size="13.8" textLength="10.6" lengthAdjust="spacingAndGlyphs">10</text><text x="657.6" y="1339.0" font-size="7.4">9</text><path d="M203.8,1238.5L211.9,1245.5M211.9,1238.5L203.8,1245.5M203.8,1183.7L211.9,1190.8M211.9,1183.7L203.8,1190.8M203.8,1129.0L211.9,1136.0M211.9,1129.0L203.8,1136.0M203.8,1074.2L211.9,1081.3M211.9,1074.2L203.8,1081.3M295.6,1337.2L304.4,1346.0M304.4,1337.2L295.6,1346.0M338.2,1337.2L347.0,1346.0M347.0,1337.2L338.2,1346.0M380.7,1337.2L389.5,1346.0M389.5,1337.2L380.7,1346.0M423.2,1337.2L432.0,1346.0M432.0,1337.2L423.2,1346.0M465.8,1337.2L474.6,1346.0M474.6,1337.2L465.8,1346.0M508.3,1337.2L517.1,1346.0M517.1,1337.2L508.3,1346.0M550.8,1337.2L559.6,1346.0M559.6,1337.2L550.8,1346.0M593.3,1337.2L602.1,1346.0M602.1,1337.2L593.3,1346.0M635.9,1337.2L644.7,1346.0M644.7,1337.2L635.9,1346.0" stroke="#333" stroke-width="1.05" fill="none"/><text x="435" y="1369.8" font-size="15.5" font-style="italic">Z<tspan font-style="normal" font-size="14.5" dx="0.3">"</tspan></text><text transform="translate(176.3,1197.0) rotate(-90)" text-anchor="middle" font-size="15.5" font-style="italic">Z</text><text x="245.0" y="1074.6" font-size="13">方案<tspan font-size="14.5">3</tspan></text><rect x="477.2" y="1264.5" width="7" height="6.4" fill="#000"/><ellipse cx="480.7" cy="1288.3" rx="3.6" ry="3.4" fill="#f00"/><text x="495.3" y="1273.2" font-size="13">老化前</text><text x="495.3" y="1293.2" font-size="13">老化<tspan font-size="14.5">3</tspan>个月后</text></g><polyline points="668.8,443.5 713.7,443.5 721.5,450.7 735.8,437.2 750.0,450.7 764.3,437.2 770.6,443.5 820.2,443.5 863.2,443.5" fill="none" stroke="#000" stroke-width="2.6" stroke-linejoin="miter"/><polyline points="857.3,437.1 863.4,443.5 857.3,450.1" fill="none" stroke="#000" stroke-width="2.6"/><polyline points="871.4,437.1 878.2,443.5 871.4,450.1" fill="none" stroke="#000" stroke-width="2.6"/><line x1="878.2" y1="443.5" x2="948.3" y2="443.5" stroke="#000" stroke-width="2.6"/><circle cx="820.2" cy="443.5" r="6.7" fill="#000"/><polyline points="820.2,443.5 820.2,486.0 841.8,486.0 849.6,493.2 863.9,479.7 878.1,493.2 892.4,479.7 898.7,486.0 919.3,486.0 919.3,443.5" fill="none" stroke="#000" stroke-width="2.6"/><g fill="#111"><text x="734.6" y="429.5" font-size="15.5" font-style="italic">R</text><text x="745.1" y="431.5" font-size="9.5">1</text><text x="851.2" y="429.9" font-size="16.6">CPE1</text><text x="864.0" y="473.8" font-size="15" font-style="italic">R</text><text x="873.7" y="475.1" font-size="9">2</text></g><polyline points="667.2,818.8 712.1,818.8 719.9,826.0 734.2,812.5 748.4,826.0 762.7,812.5 769.0,818.8 818.6,818.8 861.6,818.8" fill="none" stroke="#000" stroke-width="2.6" stroke-linejoin="miter"/><polyline points="855.7,812.4 861.8,818.8 855.7,825.4" fill="none" stroke="#000" stroke-width="2.6"/><polyline points="869.8,812.4 876.6,818.8 869.8,825.4" fill="none" stroke="#000" stroke-width="2.6"/><line x1="876.6" y1="818.8" x2="945.6" y2="818.8" stroke="#000" stroke-width="2.6"/><circle cx="818.6" cy="818.8" r="6.7" fill="#000"/><polyline points="818.6,818.8 818.6,861.3 840.2,861.3 848.0,868.5 862.3,855.0 876.5,868.5 890.8,855.0 897.1,861.3 917.5,861.3 917.5,818.8" fill="none" stroke="#000" stroke-width="2.6"/><g fill="#111"><text x="732.5" y="806.8" font-size="15.5" font-style="italic">R</text><text x="743.0" y="808.8" font-size="9.5">1</text><text x="849.6" y="807.7" font-size="16.6">CPE1</text><text x="862.4" y="849.1" font-size="15" font-style="italic">R</text><text x="872.1" y="850.4" font-size="9">2</text></g><polyline points="668.5,1130.0 713.4,1130.0 721.2,1137.2 735.5,1123.7 749.7,1137.2 764.0,1123.7 770.3,1130.0 819.9,1130.0 862.9,1130.0" fill="none" stroke="#000" stroke-width="2.6" stroke-linejoin="miter"/><polyline points="857.0,1123.6 863.1,1130.0 857.0,1136.6" fill="none" stroke="#000" stroke-width="2.6"/><polyline points="871.1,1123.6 877.9,1130.0 871.1,1136.6" fill="none" stroke="#000" stroke-width="2.6"/><line x1="877.9" y1="1130.0" x2="946.6" y2="1130.0" stroke="#000" stroke-width="2.6"/><circle cx="819.9" cy="1130.0" r="6.7" fill="#000"/><polyline points="819.9,1130.0 819.9,1172.5 841.5,1172.5 849.3,1179.7 863.6,1166.2 877.8,1179.7 892.1,1166.2 898.4,1172.5 918.3,1172.5 918.3,1130.0" fill="none" stroke="#000" stroke-width="2.6"/><g fill="#111"><text x="734.3" y="1117.5" font-size="15.5" font-style="italic">R</text><text x="744.8" y="1119.5" font-size="9.5">1</text><text x="844.9" y="1118.9" font-size="16.6">CPE1</text><text x="863.7" y="1160.3" font-size="15" font-style="italic">R</text><text x="873.4" y="1161.6" font-size="9">2</text></g><polyline points="667.6,1266.5 712.5,1266.5 720.3,1273.7 734.6,1260.2 748.8,1273.7 763.1,1260.2 769.4,1266.5 819.0,1266.5 862.0,1266.5" fill="none" stroke="#000" stroke-width="2.6" stroke-linejoin="miter"/><polyline points="856.1,1260.1 862.2,1266.5 856.1,1273.1" fill="none" stroke="#000" stroke-width="2.6"/><polyline points="870.2,1260.1 877.0,1266.5 870.2,1273.1" fill="none" stroke="#000" stroke-width="2.6"/><line x1="877.0" y1="1266.5" x2="1050.1" y2="1266.5" stroke="#000" stroke-width="2.6"/><circle cx="819.0" cy="1266.5" r="6.7" fill="#000"/><polyline points="819.0,1266.5 819.0,1308.0 839.2,1308.0 847.0,1315.2 861.3,1301.7 875.5,1315.2 889.8,1301.7 896.1,1308.0 955.5,1308.0" fill="none" stroke="#000" stroke-width="2.6"/><polyline points="955.5,1304.5 961.7,1317.2 968.3,1306.5 973.7,1317.2 979.7,1304.5" fill="none" stroke="#000" stroke-width="2.3"/><circle cx="982.0" cy="1315.2" r="2.7" fill="none" stroke="#000" stroke-width="1.5"/><polyline points="979.5,1308.0 1015.7,1308.0 1015.7,1266.5" fill="none" stroke="#000" stroke-width="2.6"/><g fill="#111"><text x="736.3" y="1254.3" font-size="15" font-style="italic">R</text><text x="746.5" y="1256.3" font-size="9">1</text><text x="845.3" y="1255.3" font-size="16">CPE1</text><text x="861.4" y="1297.9" font-size="15" font-style="italic">R</text><text x="871.4" y="1299.2" font-size="9">2</text><text x="957.0" y="1297.9" font-size="15" font-style="italic">W</text><text x="970.5" y="1299.2" font-size="9">2</text></g></svg>
<div class="cap" style="left:557px;top:648px">(a)方案1</div>
<div class="cap" style="left:557px;top:1017px">(b)方案2</div>
<div class="cap" style="left:560px;top:1379px">(c)方案3</div>
<div class="fc" style="left:223px;top:1407.5px;font-size:17.5px;letter-spacing:0.3px">图7<span style="margin-left:17px"></span>3种涂层氙灯老化3个月前后在3.5% NaCl溶液浸泡7 d后的交流阻抗谱及最佳的拟合等效电路</div>
<div class="fc" style="left:145.5px;top:1431.5px;font-size:17.5px">Fig. 7<span style="margin-left:16.5px"></span>Impedance Spectra and the Best Fitting Equivalent Circuits of Three Kinds of Coatings Soaked in 3.5 wt% NaCl</div>
<div class="fc" style="left:335.5px;top:1454.5px;font-size:17.5px">Solution for 7 Days before and after Xenon Lamp Aging for 3 Months</div>
<div style="position:absolute;left:137.5px;top:1512px;font-size:20.5px;line-height:24px;color:#3d6792">56</div>
<div style="position:absolute;left:166.5px;top:1508px;width:2px;height:30px;background:#4f7198"></div>
<div style="position:absolute;left:172px;top:1508.5px;font-size:16.5px;line-height:20px;color:#6b7075;font-weight:bold;font-family:"Liberation Sans", sans-serif">专题论述</div>
<div style="position:absolute;left:172px;top:1527.5px;font-size:9.8px;line-height:12px;color:#8a8c8e;font-weight:bold">Special Subject Summary</div>
</body></html>
